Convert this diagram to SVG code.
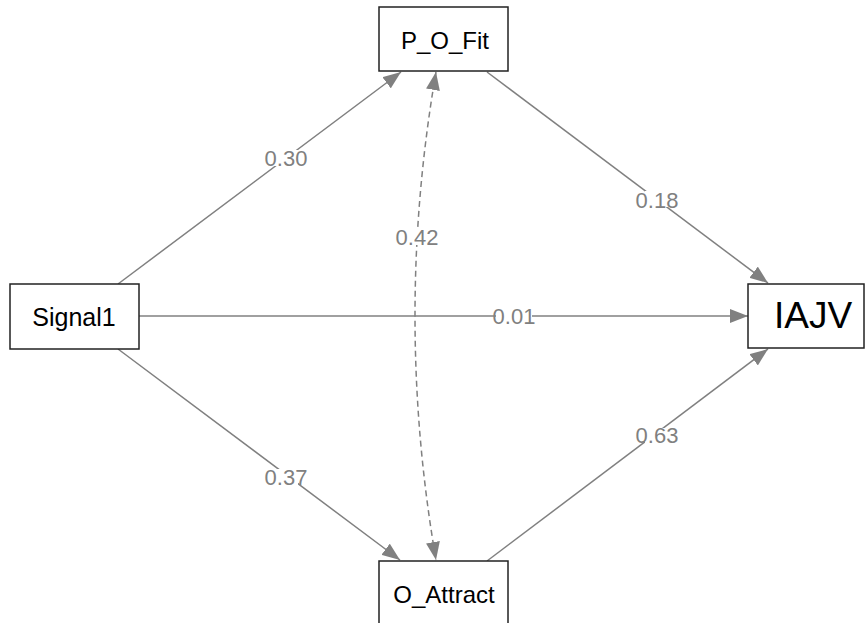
<svg xmlns="http://www.w3.org/2000/svg" width="865" height="623" viewBox="0 0 865 623">
<style>
.box{fill:#fff;stroke:#222;stroke-width:1.5}
.nt{font-family:"Liberation Sans",Arial,sans-serif;font-size:24px;fill:#000;text-anchor:middle}
.e{fill:none;stroke:#808080;stroke-width:1.5}
.d{stroke-dasharray:6,4}
.lb{font-family:"Liberation Sans",Arial,sans-serif;font-size:22px;fill:#808080;text-anchor:middle}
.bg{fill:#fff}
</style>
<defs>
<marker id="ah" markerUnits="userSpaceOnUse" viewBox="0 0 18 14" refX="18" refY="7" markerWidth="18" markerHeight="14" orient="auto-start-reverse">
<path d="M0,0 L18,7 L0,14 Z" fill="#808080"/>
</marker>
</defs>
<g id="connectors">
<line class="e" x1="118" y1="284" x2="401" y2="72" marker-end="url(#ah)"/>
<line class="e" x1="118" y1="349" x2="400" y2="560" marker-end="url(#ah)"/>
<line class="e" x1="139" y1="316" x2="748" y2="316" marker-end="url(#ah)"/>
<line class="e" x1="487" y1="72" x2="768" y2="283" marker-end="url(#ah)"/>
<line class="e" x1="487" y1="561" x2="768" y2="349" marker-end="url(#ah)"/>
<path class="e d" d="M436,72 Q394,316 436,560" marker-start="url(#ah)" marker-end="url(#ah)"/>
<rect class="bg" x="274" y="150" width="24" height="16"/>
<text class="lb" x="286" y="166">0.30</text>
<rect class="bg" x="645" y="191" width="24" height="16"/>
<text class="lb" x="657" y="208">0.18</text>
<rect class="bg" x="405" y="229" width="24" height="16"/>
<text class="lb" x="417" y="245">0.42</text>
<rect class="bg" x="496" y="308" width="36" height="16"/>
<text class="lb" x="514" y="324">0.01</text>
<rect class="bg" x="274" y="469" width="24" height="16"/>
<text class="lb" x="286" y="485">0.37</text>
<rect class="bg" x="645" y="428" width="24" height="16"/>
<text class="lb" x="657" y="443">0.63</text>
</g>
<g id="P_O_Fit">
<rect class="box" x="379" y="7" width="129" height="64"/>
<text class="nt" x="445" y="48.5">P_O_Fit</text>
</g>
<g id="Signal1">
<rect class="box" x="10" y="284" width="129" height="65"/>
<text class="nt" x="74" y="326" style="font-size:25px">Signal1</text>
</g>
<g id="IAJV">
<rect class="box" x="748" y="284" width="116" height="64"/>
<text class="nt" x="813" y="328" style="font-size:37px">IAJV</text>
</g>
<g id="O_Attract">
<rect class="box" x="379" y="561" width="129" height="64"/>
<text class="nt" x="444" y="602.5">O_Attract</text>
</g>
</svg>
